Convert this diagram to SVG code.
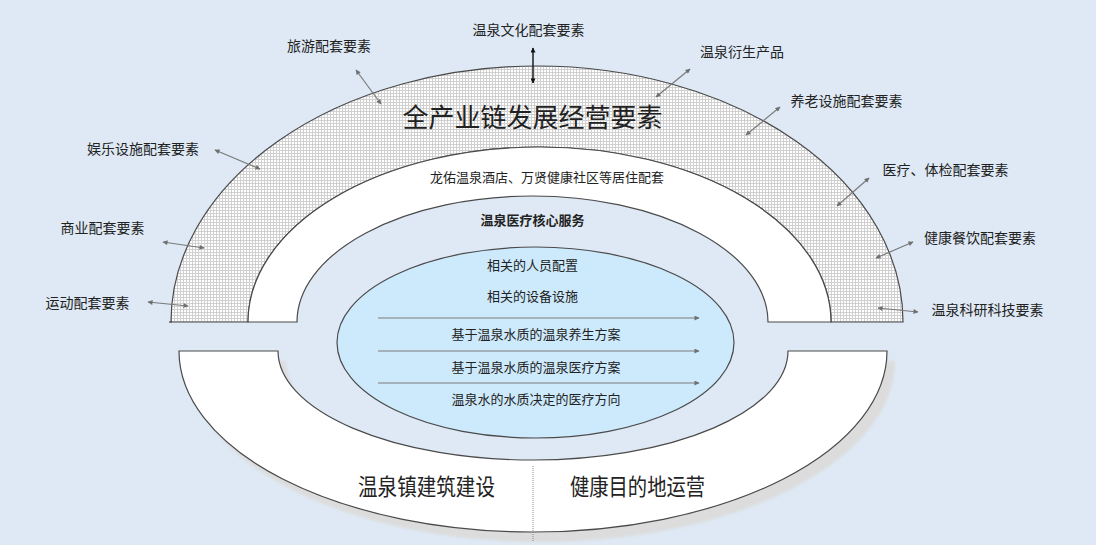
<svg xmlns="http://www.w3.org/2000/svg" width="1096" height="545" viewBox="0 0 1096 545">
<style>
text{font-family:"Noto Sans CJK SC","Noto Sans",sans-serif;fill:#222}
.lbl{font-size:14px;text-anchor:middle}
.in{font-size:13px;text-anchor:middle}
.edge{stroke:#4a4a4a;stroke-width:1.2}
.conn{stroke:#7a7a7a;stroke-width:1.2;fill:none}
</style>
<defs>
<pattern id="grid" width="3" height="3" patternUnits="userSpaceOnUse">
<rect width="3" height="3" fill="#fff"/>
<path d="M0 0.5H3M0.5 0V3" stroke="#d0d0d0" stroke-width="1"/>
</pattern>
<marker id="ag" viewBox="0 0 10 10" refX="9" refY="5" markerWidth="6" markerHeight="5" orient="auto-start-reverse" markerUnits="userSpaceOnUse">
<path d="M0 0L10 5L0 10Z" fill="#6f6f6f"/>
</marker>
<marker id="ab" viewBox="0 0 10 10" refX="9" refY="5" markerWidth="6" markerHeight="5" orient="auto-start-reverse" markerUnits="userSpaceOnUse">
<path d="M0 0L10 5L0 10Z" fill="#111"/>
</marker>
<filter id="blur" x="-5%" y="-5%" width="110%" height="110%"><feGaussianBlur stdDeviation="1.5"/></filter>
</defs>
<rect width="1096" height="545" fill="#dee9f5"/>

<g id="lower-arch">
<path d="M179 351L278 351A255 109 0 0 0 788 351L887 351A354 181 0 0 1 179 351Z" transform="translate(8 10)" fill="#dcdcdc" filter="url(#blur)"/>
<path class="edge" d="M179 351L278 351A255 109 0 0 0 788 351L887 351A354 181 0 0 1 179 351Z" fill="#fff"/>
<line x1="533" y1="466" x2="533" y2="541" stroke="#8a8a8a" stroke-width="1" stroke-dasharray="1 1"/>
<text x="426.5" y="495" font-size="23" text-anchor="middle" textLength="137" lengthAdjust="spacingAndGlyphs">温泉镇建筑建设</text>
<text x="637.5" y="495" font-size="23" text-anchor="middle" textLength="135" lengthAdjust="spacingAndGlyphs">健康目的地运营</text>
</g>

<g id="industry-arch">
<path class="edge" d="M171 322A366 256 0 0 1 903 322L831 322A291.5 175 0 0 0 248 322Z" fill="url(#grid)"/>
<line class="edge" x1="169" y1="322" x2="172" y2="322"/>
<text x="532.5" y="127" font-size="26" text-anchor="middle">全产业链发展经营要素</text>
</g>

<g id="residential-band">
<path class="edge" d="M248 322A291.5 175 0 0 1 831 322L768 322A235.5 126 0 0 0 297 322Z" fill="#fff"/>
<text class="in" x="547" y="182">龙佑温泉酒店、万贤健康社区等居住配套</text>
</g>

<g id="core-service">
<text class="in" x="532.5" y="225" font-weight="bold">温泉医疗核心服务</text>
</g>

<g id="core-ellipse">
<ellipse class="edge" cx="535.5" cy="342.5" rx="198.5" ry="95.5" fill="#cdeafc"/>
<text class="in" x="532.5" y="270">相关的人员配置</text>
<text class="in" x="532.5" y="301">相关的设备设施</text>
<text class="in" x="536" y="339">基于温泉水质的温泉养生方案</text>
<text class="in" x="536" y="372">基于温泉水质的温泉医疗方案</text>
<text class="in" x="536" y="404">温泉水的水质决定的医疗方向</text>
</g>

<g id="label-culture"><text class="lbl" x="528.5" y="35">温泉文化配套要素</text></g>
<g id="label-tourism"><text class="lbl" x="329" y="51">旅游配套要素</text></g>
<g id="label-entertainment"><text class="lbl" x="143" y="154">娱乐设施配套要素</text></g>
<g id="label-commerce"><text class="lbl" x="102.5" y="233">商业配套要素</text></g>
<g id="label-sports"><text class="lbl" x="87.5" y="308">运动配套要素</text></g>
<g id="label-derivative"><text class="lbl" x="742" y="57">温泉衍生产品</text></g>
<g id="label-elderly"><text class="lbl" x="846.5" y="106">养老设施配套要素</text></g>
<g id="label-medical"><text class="lbl" x="945.5" y="175">医疗、体检配套要素</text></g>
<g id="label-dining"><text class="lbl" x="980" y="243">健康餐饮配套要素</text></g>
<g id="label-research"><text class="lbl" x="987.5" y="315">温泉科研科技要素</text></g>

<g id="connectors">
<line x1="533" y1="48" x2="533" y2="83" stroke="#111" stroke-width="1.4" marker-start="url(#ab)" marker-end="url(#ab)"/>
<line class="conn" x1="356" y1="70" x2="381" y2="104" marker-start="url(#ag)" marker-end="url(#ag)"/>
<line class="conn" x1="215" y1="150" x2="260" y2="169" marker-start="url(#ag)" marker-end="url(#ag)"/>
<line class="conn" x1="163" y1="242" x2="204" y2="248" marker-start="url(#ag)" marker-end="url(#ag)"/>
<line class="conn" x1="148" y1="302" x2="188" y2="306" marker-start="url(#ag)" marker-end="url(#ag)"/>
<line class="conn" x1="690" y1="69" x2="656" y2="97" marker-start="url(#ag)" marker-end="url(#ag)"/>
<line class="conn" x1="780" y1="107" x2="746" y2="135" marker-start="url(#ag)" marker-end="url(#ag)"/>
<line class="conn" x1="869" y1="178" x2="837" y2="206" marker-start="url(#ag)" marker-end="url(#ag)"/>
<line class="conn" x1="913" y1="242" x2="876" y2="258" marker-start="url(#ag)" marker-end="url(#ag)"/>
<line class="conn" x1="878" y1="308" x2="918" y2="312" marker-start="url(#ag)" marker-end="url(#ag)"/>
<line class="conn" x1="378" y1="318" x2="699" y2="318" marker-end="url(#ag)"/>
<line class="conn" x1="378" y1="351" x2="699" y2="351" marker-end="url(#ag)"/>
<line class="conn" x1="378" y1="383" x2="699" y2="383" marker-end="url(#ag)"/>
</g>
</svg>
